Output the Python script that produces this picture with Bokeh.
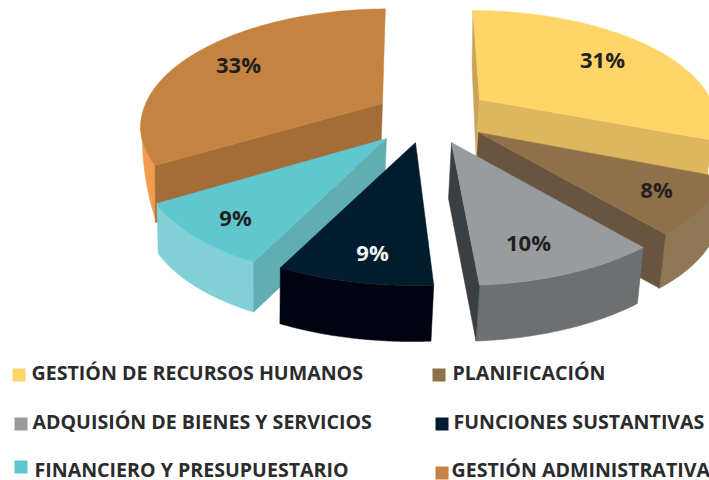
import math
from bokeh.plotting import figure
from bokeh.models import Range1d
from bokeh.core.properties import value
from bokeh.embed import file_html
from bokeh.resources import INLINE

categories = ["GESTIÓN DE RECURSOS HUMANOS", "PLANIFICACIÓN", "ADQUISIÓN DE BIENES Y SERVICIOS",
              "FUNCIONES SUSTANTIVAS", "FINANCIERO Y PRESUPUESTARIO", "GESTIÓN ADMINISTRATIVA"]
shares = [31, 8, 10, 8.5, 9.01, 33.49]
share_labels = ["31%", "8%", "10%", "9%", "9%", "33%"]

top_colors = ["#FFD568", "#8F7149", "#989C9E", "#011B2F", "#5FC7CE", "#C58341"]
rim_colors = ["#E8C160", "#8F7655", "#6C7071", "#000310", "#81D0D7", "#F39C4E"]
start_side = ["#C9A45A", None, None, None, "#60AEB1", "#A46D38"]
end_side = ["#DDB65F", "#695440", "#393F42", None, None, None]

apex_px = [(479, 99), (478, 132), (451, 142), (415, 142), (386, 138), (382, 103)]
thick = [56, 54, 56, 56, 50, 57]
x_scale = [0.97, 0.97, 1.0, 1.0, 0.95, 0.99]
y_scale = [1.0, 1.0, 1.0, 1.0, 1.0, 1.06]
end_trim = [0, 0, -0.4, -0.5, 0, -0.8]
start_trim = [0.5, 0, 0, 0, -0.5, 0]
rim_limit = [(80, 280), (80, 280), (80, 280), (80, 280), (80, 280), (80, 262)]
rim_taper = [False, False, False, False, False, True]
label_pos = [(602, 58), (656, 188), (528, 241), (372, 251), (235, 216), (238, 63)]
label_col = ["#231F20", "#231F20", "#231F20", "#F2F4F5", "#231F20", "#231F20"]
# draw order: back to front
order = [5, 0, 1, 2, 4, 3]

legend_sq = [(12, 368, 25, 381), (432, 368, 445, 381), (14, 417, 27, 430),
             (435, 417, 448, 430), (14, 460, 27, 473), (435, 466, 448, 479)]
legend_txt = [(31, 372), (452, 372), (32, 421), (453, 421), (34, 469), (451, 469)]

X0, YV, D, E = 420.0, -535.0, 2.576e-4, 0.375


def unproject(x, y):
    w = y - YV
    return (x - X0) / w, 1.0 / w


def project(a, q):
    w = 1.0 / q
    return X0 + a * w, w + YV


def drop(x, y, t, c=0.015):
    return x - c * (x - 250), y + t


p = figure(width=709, height=480, output_backend="svg", toolbar_location=None,
           x_range=Range1d(0, 709), y_range=Range1d(480, 0), min_border=0,
           background_fill_color="white", border_fill_color="white", outline_line_color=None)
p.xaxis.visible = False
p.yaxis.visible = False
p.grid.visible = False

edges = [0.0]
for s in shares:
    edges.append(edges[-1] + s / sum(shares) * 360.0)


def rim(i, t0, t1, n=80):
    a0, q0 = unproject(*apex_px[i])
    out = []
    for k in range(n + 1):
        th = math.radians(t0 + (t1 - t0) * k / n)
        out.append(project(a0 + x_scale[i] * E * math.sin(th), q0 + y_scale[i] * D * math.cos(th)))
    return out


def face(pts, color):
    p.patch([c[0] for c in pts], [c[1] for c in pts], fill_color=color, line_color=color, line_width=0.5)


for i in order:
    t0, t1 = edges[i] + start_trim[i], edges[i + 1] + end_trim[i]
    r = rim(i, t0, t1)
    a = apex_px[i]
    t = thick[i]
    front = rim(i, max(t0, rim_limit[i][0]), min(t1, rim_limit[i][1]))
    n = len(front) - 1
    if rim_taper[i]:
        lower = [drop(x, y, t * (1 - k / n)) for k, (x, y) in enumerate(front)]
    else:
        lower = [drop(x, y, t) for x, y in front]
    face(front + lower[::-1], rim_colors[i])
    if start_side[i]:
        face([a, r[0], drop(*r[0], t, 0.004), drop(*a, t)], start_side[i])
    if end_side[i]:
        face([a, r[-1], drop(*r[-1], t), drop(*a, t)], end_side[i])
    face([a] + r, top_colors[i])

for i in range(6):
    x, y = label_pos[i]
    p.text([x], [y], text=[share_labels[i]], text_font=value("Open Sans"), text_font_style="bold",
           text_font_size="22px", text_color=label_col[i], text_align="center", text_baseline="middle")
    x0, y0, x1, y1 = legend_sq[i]
    p.quad(left=[x0], right=[x1], top=[y0], bottom=[y1], fill_color=top_colors[i], line_color=None)
    tx, ty = legend_txt[i]
    p.text([tx], [ty], text=[categories[i]], text_font=value("Open Sans"), text_font_style="bold",
           text_font_size="19.6px", text_color="#2B2B2D", text_align="left", text_baseline="middle")

open("out.html", "w").write(file_html(p, INLINE))
